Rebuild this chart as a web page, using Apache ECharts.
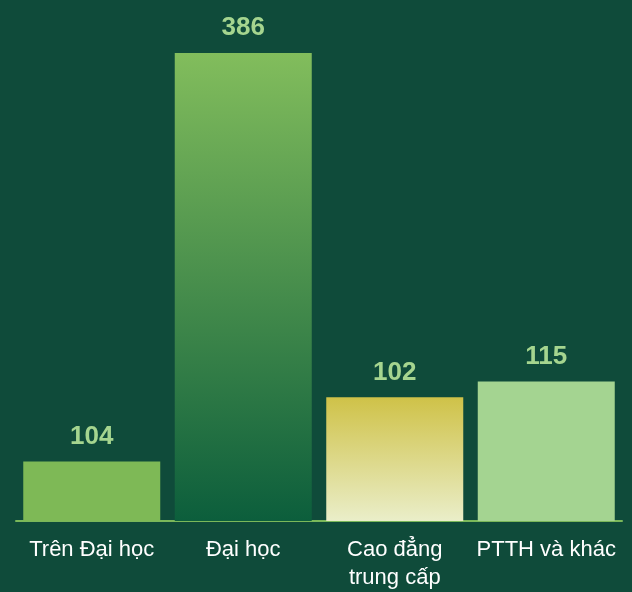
<!DOCTYPE html>
<html>
<head>
<meta charset="utf-8">
<script src="https://cdn.jsdelivr.net/npm/echarts@6/dist/echarts.min.js"></script>
<style>
html,body{margin:0;padding:0;background:#0f4b3a;}
#c{width:632px;height:592px;}
</style>
</head>
<body>
<div id="c"></div>
<script>
const categories = ['Trên Đại học', 'Đại học', 'Cao đẳng\ntrung cấp', 'PTTH và khác'];
const valueLabels = [104, 386, 102, 115];
// bar lengths as drawn in the source picture (first bar is drawn shorter than its label)
const barLengths = [49, 386, 102, 115];

const barColors = [
  '#7eb956',
  {type:'linear',x:0,y:0,x2:0,y2:1,colorStops:[{offset:0,color:'#82bd5c'},{offset:1,color:'#0c5e3c'}]},
  {type:'linear',x:0,y:0,x2:0,y2:1,colorStops:[{offset:0,color:'#cfc248'},{offset:1,color:'#eaeec9'}]},
  '#a4d491'
];

const chart = echarts.init(document.getElementById('c'), null, {renderer:'canvas'});
chart.setOption({
  backgroundColor:'#0f4b3a',
  animation:false,
  grid:{left:16, right:10, top:53, bottom:70, containLabel:false},
  xAxis:{
    type:'category',
    data:categories,
    axisLine:{show:true, lineStyle:{color:'#7ab85a', width:2}},
    axisTick:{show:false},
    axisLabel:{color:'#ffffff', fontFamily:'Liberation Sans', fontSize:22, lineHeight:28, margin:15, interval:0}
  },
  yAxis:{type:'value', min:0, max:386, show:false, splitLine:{show:false}},
  series:[{
    type:'bar',
    barWidth:137,
    data:barLengths.map((v,i)=>({value:v, itemStyle:{color:barColors[i]}})),
    label:{
      show:true, position:'top', distance:12,
      formatter:p=>String(valueLabels[p.dataIndex]),
      color:'#a5d58f', fontFamily:'Liberation Sans', fontWeight:'bold', fontSize:26
    }
  }]
});
</script>
</body>
</html>
